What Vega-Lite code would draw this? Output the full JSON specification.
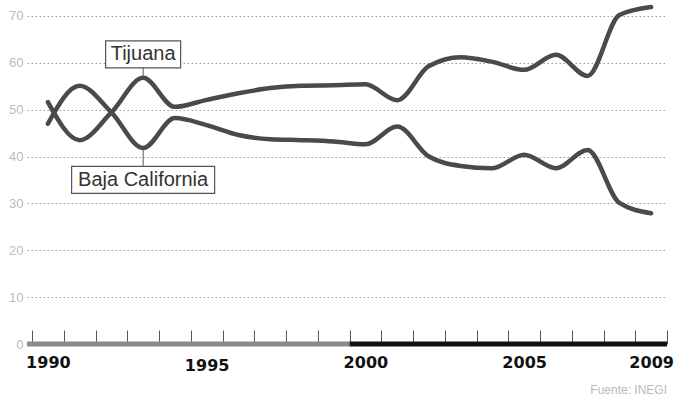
{
  "$schema": "https://vega.github.io/schema/vega-lite/v6.json",
  "autosize": {"type": "none"},
  "padding": {"left": 27, "top": 0, "right": 10, "bottom": 56},
  "width": 640,
  "height": 344,
  "background": "white",
  "title": {"text": "Fuente: INEGI", "orient": "bottom", "anchor": "end", "frame": "group", "fontSize": 12, "font": "Liberation Sans", "fontWeight": "normal", "color": "#bbbbbb", "offset": 12},
  "config": {"view": {"stroke": null}},
  "datasets": {
    "serie": [
      {"anio": 1990, "serie": "Tijuana", "valor": 51.6},
      {"anio": 1991, "serie": "Tijuana", "valor": 43.5},
      {"anio": 1992, "serie": "Tijuana", "valor": 49.4},
      {"anio": 1993, "serie": "Tijuana", "valor": 56.8},
      {"anio": 1994, "serie": "Tijuana", "valor": 50.6},
      {"anio": 1995, "serie": "Tijuana", "valor": 52.1},
      {"anio": 1996, "serie": "Tijuana", "valor": 53.5},
      {"anio": 1997, "serie": "Tijuana", "valor": 54.6},
      {"anio": 1998, "serie": "Tijuana", "valor": 55.1},
      {"anio": 1999, "serie": "Tijuana", "valor": 55.2},
      {"anio": 2000, "serie": "Tijuana", "valor": 55.4},
      {"anio": 2001, "serie": "Tijuana", "valor": 52.0},
      {"anio": 2002, "serie": "Tijuana", "valor": 59.3},
      {"anio": 2003, "serie": "Tijuana", "valor": 61.2},
      {"anio": 2004, "serie": "Tijuana", "valor": 60.2},
      {"anio": 2005, "serie": "Tijuana", "valor": 58.5},
      {"anio": 2006, "serie": "Tijuana", "valor": 61.7},
      {"anio": 2007, "serie": "Tijuana", "valor": 57.2},
      {"anio": 2008, "serie": "Tijuana", "valor": 70.2},
      {"anio": 2009, "serie": "Tijuana", "valor": 71.9},
      {"anio": 1990, "serie": "Baja California", "valor": 47.0},
      {"anio": 1991, "serie": "Baja California", "valor": 55.1},
      {"anio": 1992, "serie": "Baja California", "valor": 49.4},
      {"anio": 1993, "serie": "Baja California", "valor": 41.8},
      {"anio": 1994, "serie": "Baja California", "valor": 48.2},
      {"anio": 1995, "serie": "Baja California", "valor": 46.7},
      {"anio": 1996, "serie": "Baja California", "valor": 44.6},
      {"anio": 1997, "serie": "Baja California", "valor": 43.7},
      {"anio": 1998, "serie": "Baja California", "valor": 43.5},
      {"anio": 1999, "serie": "Baja California", "valor": 43.2},
      {"anio": 2000, "serie": "Baja California", "valor": 42.6},
      {"anio": 2001, "serie": "Baja California", "valor": 46.4},
      {"anio": 2002, "serie": "Baja California", "valor": 40.0},
      {"anio": 2003, "serie": "Baja California", "valor": 38.0},
      {"anio": 2004, "serie": "Baja California", "valor": 37.5},
      {"anio": 2005, "serie": "Baja California", "valor": 40.4},
      {"anio": 2006, "serie": "Baja California", "valor": 37.5},
      {"anio": 2007, "serie": "Baja California", "valor": 41.4},
      {"anio": 2008, "serie": "Baja California", "valor": 30.1},
      {"anio": 2009, "serie": "Baja California", "valor": 27.9}
    ],
    "periodos": [
      {"desde": 1989.3425, "hasta": 1999.5, "periodo": "1990-1999"},
      {"desde": 1999.5, "hasta": 2009.5, "periodo": "2000-2009"}
    ],
    "notas": [
      {"etiqueta": "Tijuana", "anio": 1993, "punta": 56.8, "caja": 61.8},
      {"etiqueta": "Baja California", "anio": 1993, "punta": 41.8, "caja": 35.0}
    ]
  },
  "encoding": {
    "x": {
      "type": "quantitative",
      "title": null,
      "scale": {"domain": [1989.3425, 2009.5], "nice": false, "zero": false},
      "axis": {
        "title": null,
        "values": [1989.5, 1990.5, 1991.5, 1992.5, 1993.5, 1994.5, 1995.5, 1996.5, 1997.5, 1998.5, 1999.5, 2000.5, 2001.5, 2002.5, 2003.5, 2004.5, 2005.5, 2006.5, 2007.5, 2008.5, 2009.5],
        "domain": false,
        "grid": false,
        "ticks": true,
        "tickSize": -14,
        "tickColor": "#555555",
        "tickWidth": 1,
        "labelExpr": "indexof([1989.5, 1994.5, 1999.5, 2004.5, 2008.5], datum.value) >= 0 ? format(datum.value + 0.5, 'd') : ''",
        "labelOffset": 15.875,
        "labelFont": "DejaVu Sans",
        "labelFontWeight": "bold",
        "labelFontSize": 16,
        "labelColor": "#111111",
        "labelPadding": {"condition": {"test": "datum.value == 1994.5", "value": 27}, "value": 24},
        "labelOverlap": false,
        "labelFlush": false,
        "labelBound": false
      }
    },
    "y": {
      "type": "quantitative",
      "title": null,
      "scale": {"domain": [0, 73.4], "nice": false},
      "axis": {
        "title": null,
        "values": [0, 10, 20, 30, 40, 50, 60, 70],
        "domain": false,
        "ticks": false,
        "labelPadding": 4,
        "labelFont": "Liberation Sans",
        "labelFontSize": 13,
        "labelColor": "#bbbbbb",
        "grid": true,
        "gridDash": [1.5, 2.5],
        "gridColor": "#9a9a9a",
        "gridWidth": 1
      }
    }
  },
  "layer": [
    {
      "data": {"name": "periodos"},
      "mark": {"type": "rule", "strokeWidth": 5},
      "encoding": {
        "x": {"field": "desde", "type": "quantitative"},
        "x2": {"field": "hasta"},
        "y": {"datum": 0, "type": "quantitative"},
        "color": {"field": "periodo", "type": "nominal", "scale": {"domain": ["1990-1999", "2000-2009"], "range": ["#8a8a8a", "#111111"]}, "legend": null}
      }
    },
    {
      "data": {"name": "notas"},
      "mark": {"type": "rule", "color": "#555555", "strokeWidth": 1},
      "encoding": {
        "x": {"field": "anio", "type": "quantitative"},
        "y": {"field": "punta", "type": "quantitative"},
        "y2": {"field": "caja"}
      }
    },
    {
      "data": {"name": "serie"},
      "mark": {"type": "line", "interpolate": "monotone", "strokeWidth": 4.5, "color": "#4a4a4a", "strokeCap": "round"},
      "encoding": {
        "x": {"field": "anio", "type": "quantitative"},
        "y": {"field": "valor", "type": "quantitative"},
        "detail": {"field": "serie"}
      }
    },
    {
      "data": {"name": "notas"},
      "mark": {"type": "point", "filled": true, "fill": "white", "stroke": "#555555", "strokeWidth": 1.2, "opacity": 1, "size": 4},
      "encoding": {
        "x": {"field": "anio", "type": "quantitative"},
        "y": {"field": "caja", "type": "quantitative"},
        "shape": {"field": "etiqueta", "type": "nominal", "scale": {"domain": ["Tijuana", "Baja California"], "range": ["M-37.5,-13.5H37.5V13.5H-37.5Z", "M-71.5,-13.5H71.5V13.5H-71.5Z"]}, "legend": null}
      }
    },
    {
      "data": {"name": "notas"},
      "mark": {"type": "text", "font": "Liberation Sans", "fontSize": 20, "color": "#333333", "align": "center", "baseline": "middle"},
      "encoding": {
        "x": {"field": "anio", "type": "quantitative"},
        "y": {"field": "caja", "type": "quantitative"},
        "text": {"field": "etiqueta"}
      }
    }
  ]
}
